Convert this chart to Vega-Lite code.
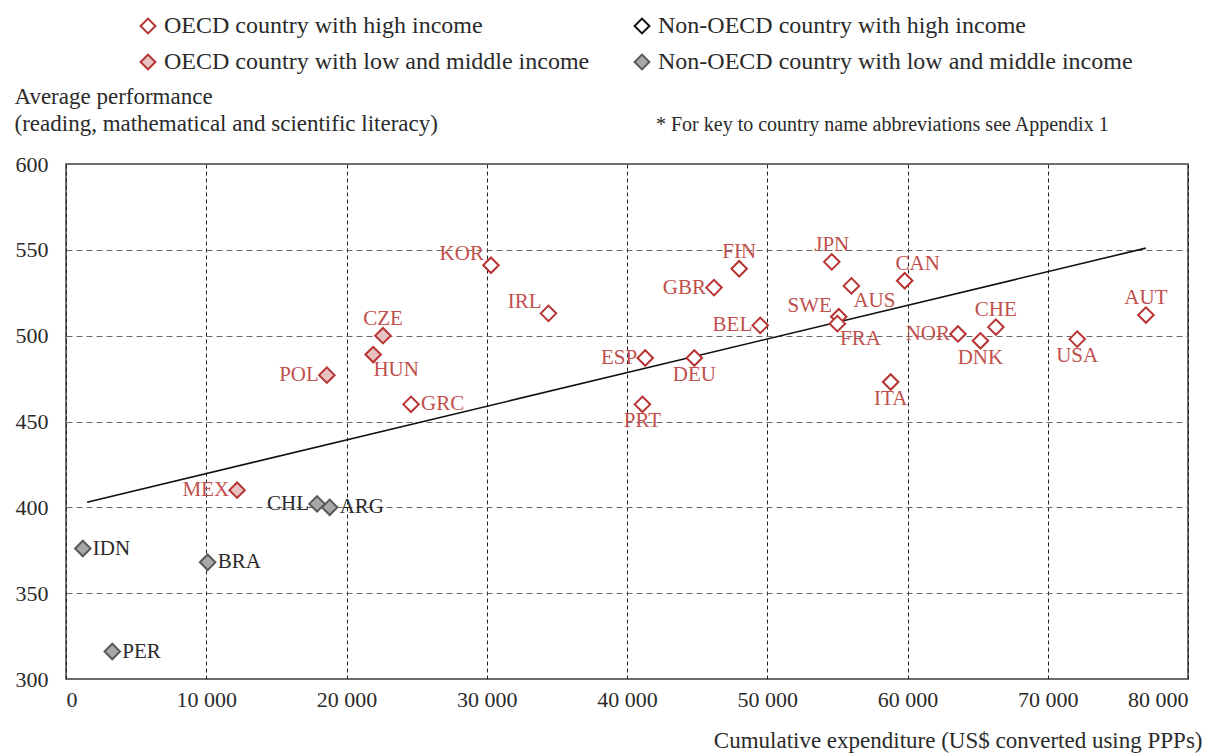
{
  "$schema": "https://vega.github.io/schema/vega-lite/v6.json",
  "width": 1122,
  "height": 515,
  "autosize": "none",
  "padding": {"left": 66, "top": 164, "right": 36, "bottom": 75},
  "config": {
    "font": "Liberation Serif",
    "view": {"stroke": "#404040", "strokeWidth": 1.5},
    "axis": {"labelFont": "Liberation Serif", "titleFont": "Liberation Serif", "labelColor": "#2a2a2a", "titleColor": "#2a2a2a", "titleFontWeight": "normal", "domain": false, "ticks": false, "labelFontSize": 22, "titleFontSize": 23},
    "legend": {"labelFont": "Liberation Serif", "labelFontSize": 24, "labelColor": "#2a2a2a", "labelLimit": 0}
  },
  "title": {"text": "* For key to country name abbreviations see Appendix 1", "anchor": "start", "frame": "group", "dx": 590, "dy": 121, "fontSize": 20, "fontWeight": "normal", "offset": 0, "color": "#2a2a2a"},
  "datasets": {
    "pts": [
      {"country": "KOR", "exp": 30300, "perf": 541, "group": "OECD country with high income"},
      {"country": "IRL", "exp": 34400, "perf": 513, "group": "OECD country with high income"},
      {"country": "FIN", "exp": 48000, "perf": 539, "group": "OECD country with high income"},
      {"country": "GBR", "exp": 46200, "perf": 528, "group": "OECD country with high income"},
      {"country": "JPN", "exp": 54600, "perf": 543, "group": "OECD country with high income"},
      {"country": "AUS", "exp": 56000, "perf": 529, "group": "OECD country with high income"},
      {"country": "CAN", "exp": 59800, "perf": 532, "group": "OECD country with high income"},
      {"country": "SWE", "exp": 55100, "perf": 511, "group": "OECD country with high income"},
      {"country": "FRA", "exp": 55000, "perf": 507, "group": "OECD country with high income"},
      {"country": "BEL", "exp": 49500, "perf": 506, "group": "OECD country with high income"},
      {"country": "ESP", "exp": 41300, "perf": 487, "group": "OECD country with high income"},
      {"country": "DEU", "exp": 44800, "perf": 487, "group": "OECD country with high income"},
      {"country": "PRT", "exp": 41100, "perf": 460, "group": "OECD country with high income"},
      {"country": "ITA", "exp": 58800, "perf": 473, "group": "OECD country with high income"},
      {"country": "NOR", "exp": 63600, "perf": 501, "group": "OECD country with high income"},
      {"country": "CHE", "exp": 66300, "perf": 505, "group": "OECD country with high income"},
      {"country": "DNK", "exp": 65200, "perf": 497, "group": "OECD country with high income"},
      {"country": "USA", "exp": 72100, "perf": 498, "group": "OECD country with high income"},
      {"country": "AUT", "exp": 77000, "perf": 512, "group": "OECD country with high income"},
      {"country": "GRC", "exp": 24600, "perf": 460, "group": "OECD country with high income"},
      {"country": "CZE", "exp": 22600, "perf": 500, "group": "OECD country with low and middle income"},
      {"country": "HUN", "exp": 21900, "perf": 489, "group": "OECD country with low and middle income"},
      {"country": "POL", "exp": 18600, "perf": 477, "group": "OECD country with low and middle income"},
      {"country": "MEX", "exp": 12200, "perf": 410, "group": "OECD country with low and middle income"},
      {"country": "CHL", "exp": 17900, "perf": 402, "group": "Non-OECD country with low and middle income"},
      {"country": "ARG", "exp": 18800, "perf": 400, "group": "Non-OECD country with low and middle income"},
      {"country": "IDN", "exp": 1200, "perf": 376, "group": "Non-OECD country with low and middle income"},
      {"country": "BRA", "exp": 10100, "perf": 368, "group": "Non-OECD country with low and middle income"},
      {"country": "PER", "exp": 3300, "perf": 316, "group": "Non-OECD country with low and middle income"}
    ],
    "trend": [
      {"exp": 1500, "perf": 403},
      {"exp": 77000, "perf": 551}
    ]
  },
  "layer": [
    {
      "data": {"name": "trend"},
      "mark": {"type": "line", "color": "#111", "strokeWidth": 1.6},
      "encoding": {
        "x": {"field": "exp", "type": "quantitative", "scale": {"domain": [0, 80000], "nice": false},
          "axis": {"values": [0, 10000, 20000, 30000, 40000, 50000, 60000, 70000, 80000], "labelExpr": "replace(format(datum.value, ','), ',', ' ')", "labelPadding": 10, "grid": true, "gridColor": "#222", "gridDash": [4, 3], "gridWidth": 1,
            "title": "Cumulative expenditure (US$ converted using PPPs)", "titleAlign": "right", "titleX": 1136, "titleY": 50, "titleBaseline": "top"}},
        "y": {"field": "perf", "type": "quantitative", "scale": {"domain": [300, 600], "nice": false},
          "axis": {"values": [300, 350, 400, 450, 500, 550, 600], "labelPadding": 18, "grid": true, "gridColor": "#6a6a6a", "gridDash": [6, 4], "gridWidth": 1.2,
            "title": ["Average performance", "(reading, mathematical and scientific literacy)"], "titleAngle": 0, "titleAlign": "left", "titleBaseline": "top", "titleX": -52, "titleY": -79, "titleLineHeight": 27}}
      }
    },
    {
      "data": {"name": "pts"},
      "mark": {"type": "point", "shape": "diamond", "filled": true, "opacity": 1, "strokeWidth": 2, "size": 240},
      "encoding": {
        "x": {"field": "exp", "type": "quantitative"},
        "y": {"field": "perf", "type": "quantitative"},
        "fill": {"field": "group", "type": "nominal",
          "scale": {"domain": ["OECD country with high income", "OECD country with low and middle income", "Non-OECD country with high income", "Non-OECD country with low and middle income"], "range": ["#ffffff", "#e6c2c2", "#ffffff", "#a8a8a8"]},
          "legend": {"title": null, "orient": "none", "legendX": 70, "legendY": -150, "columns": 2, "columnPadding": 40, "rowPadding": 12, "symbolType": "diamond", "symbolSize": 220, "symbolStrokeWidth": 2, "labelOffset": 4, "padding": 0}},
        "stroke": {"field": "group", "type": "nominal",
          "scale": {"domain": ["OECD country with high income", "OECD country with low and middle income", "Non-OECD country with high income", "Non-OECD country with low and middle income"], "range": ["#b83232", "#b83232", "#111111", "#595959"]},
          "legend": {"title": null, "orient": "none", "legendX": 70, "legendY": -150, "columns": 2, "columnPadding": 40, "rowPadding": 12, "symbolType": "diamond", "symbolSize": 220, "symbolStrokeWidth": 2, "labelOffset": 4, "padding": 0}}
      }
    },
    {
      "data": {"name": "pts"},
      "transform": [{"filter": {"field": "country", "oneOf": ["GBR", "ESP", "NOR", "POL", "MEX", "BEL", "CHL"]}}],
      "mark": {"type": "text", "align": "right", "baseline": "middle", "dx": -8, "fontSize": 21},
      "encoding": {
        "x": {"field": "exp", "type": "quantitative"},
        "y": {"field": "perf", "type": "quantitative"},
        "text": {"field": "country"},
        "color": {"condition": {"test": "indexof(datum.group, 'Non') == 0", "value": "#2a2a2a"}, "value": "#c0504d"}
      }
    },
    {
      "data": {"name": "pts"},
      "transform": [{"filter": {"field": "country", "oneOf": ["KOR", "IRL", "SWE"]}}],
      "mark": {"type": "text", "align": "right", "baseline": "middle", "dx": -7, "dy": -11, "fontSize": 21},
      "encoding": {
        "x": {"field": "exp", "type": "quantitative"},
        "y": {"field": "perf", "type": "quantitative"},
        "text": {"field": "country"},
        "color": {"value": "#c0504d"}
      }
    },
    {
      "data": {"name": "pts"},
      "transform": [{"filter": {"field": "country", "oneOf": ["GRC", "ARG", "IDN", "BRA", "PER"]}}],
      "mark": {"type": "text", "align": "left", "baseline": "middle", "dx": 10, "fontSize": 21},
      "encoding": {
        "x": {"field": "exp", "type": "quantitative"},
        "y": {"field": "perf", "type": "quantitative"},
        "text": {"field": "country"},
        "color": {"condition": {"test": "indexof(datum.group, 'Non') == 0", "value": "#2a2a2a"}, "value": "#c0504d"}
      }
    },
    {
      "data": {"name": "pts"},
      "transform": [{"filter": {"field": "country", "oneOf": ["CZE", "FIN", "JPN", "CHE", "AUT"]}}],
      "mark": {"type": "text", "align": "center", "baseline": "middle", "dy": -17, "fontSize": 21},
      "encoding": {
        "x": {"field": "exp", "type": "quantitative"},
        "y": {"field": "perf", "type": "quantitative"},
        "text": {"field": "country"},
        "color": {"value": "#c0504d"}
      }
    },
    {
      "data": {"name": "pts"},
      "transform": [{"filter": {"field": "country", "oneOf": ["CAN"]}}],
      "mark": {"type": "text", "align": "center", "baseline": "middle", "dx": 13, "dy": -17, "fontSize": 21},
      "encoding": {
        "x": {"field": "exp", "type": "quantitative"},
        "y": {"field": "perf", "type": "quantitative"},
        "text": {"field": "country"},
        "color": {"value": "#c0504d"}
      }
    },
    {
      "data": {"name": "pts"},
      "transform": [{"filter": {"field": "country", "oneOf": ["DEU", "PRT", "ITA", "DNK", "USA"]}}],
      "mark": {"type": "text", "align": "center", "baseline": "middle", "dy": 17, "fontSize": 21},
      "encoding": {
        "x": {"field": "exp", "type": "quantitative"},
        "y": {"field": "perf", "type": "quantitative"},
        "text": {"field": "country"},
        "color": {"value": "#c0504d"}
      }
    },
    {
      "data": {"name": "pts"},
      "transform": [{"filter": {"field": "country", "oneOf": ["HUN", "AUS", "FRA"]}}],
      "mark": {"type": "text", "align": "center", "baseline": "middle", "dx": 23, "dy": 15, "fontSize": 21},
      "encoding": {
        "x": {"field": "exp", "type": "quantitative"},
        "y": {"field": "perf", "type": "quantitative"},
        "text": {"field": "country"},
        "color": {"value": "#c0504d"}
      }
    }
  ]
}
